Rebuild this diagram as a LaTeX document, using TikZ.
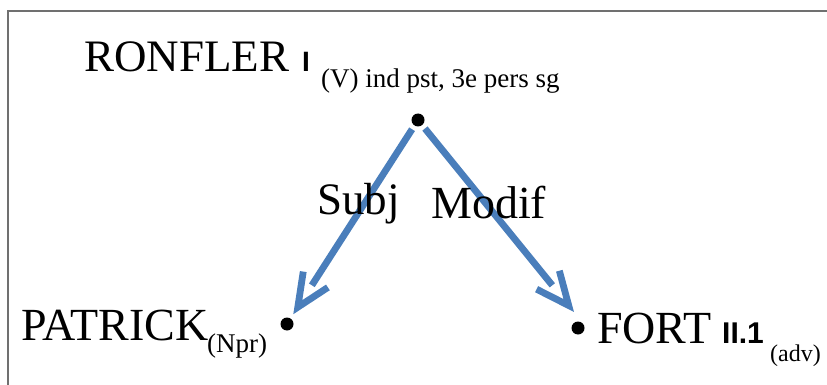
\documentclass[tikz,border=0pt]{standalone}
\usepackage{fontspec}
\setmainfont{Liberation Serif}
\newfontfamily\arialf{Liberation Sans}
\usetikzlibrary{calc}
\definecolor{arrblue}{HTML}{4A7EBB}
\definecolor{framegray}{HTML}{707070}
\begin{document}
\begin{tikzpicture}[x=1pt,y=-1pt,
  big/.style={anchor=base west, inner sep=0pt, font=\fontsize{46}{50}\selectfont},
  subtxt/.style={anchor=base west, inner sep=0pt, font=\fontsize{26}{28}\selectfont},
  roman/.style={anchor=base west, inner sep=0pt, font=\arialf\bfseries\fontsize{28}{32}\selectfont},
  dotnode/.style={circle, fill=black, inner sep=0pt, minimum size=13pt},
  shaft/.style={draw=arrblue, line width=6.8pt},
  head/.style={draw=arrblue, line width=6.8pt, line join=miter}]
\useasboundingbox (0,0) rectangle (827,385);
\draw[framegray, line width=1.5pt] (8,385) -- (8,11) -- (827,11);

% dots
\node[dotnode] (T) at (418,120) {};
\node[dotnode] (L) at (287,324) {};
\node[dotnode] (R) at (578,328) {};
\coordinate (aimR) at ($(R)+(9,0)$);

% left arrow
\coordinate (tipL) at ($(L)!20pt!(T)$);
\draw[shaft] ($(T)!11pt!(L)$) -- ($(L)!46pt!(T)$);
\draw[head] ($(tipL)!36pt!24:(T)$) -- (tipL) -- ($(tipL)!36pt!-24:(T)$);

% right arrow
\coordinate (tipR) at ($(aimR)!29pt!(T)$);
\draw[shaft] ($(T)!11pt!(aimR)$) -- ($(aimR)!55pt!(T)$);
\draw[head] ($(tipR)!36pt!24:(T)$) -- (tipR) -- ($(tipR)!36pt!-24:(T)$);

% words
\node[big, font=\fontsize{45}{50}\selectfont] (ronfler) at (84,72) {RONFLER};
\node[roman] (romI) at (302,72) {I};
\node[subtxt, font=\fontsize{27}{30}\selectfont] (vsub) at (321,88) {(V) ind pst, 3e pers sg};
\node[big] (patrick) at (21,340) {PATRICK};
\node[subtxt, font=\fontsize{27}{30}\selectfont] (npr) at (207,352) {(Npr)};
\node[big] (fort) at (597,343) {FORT};
\node[roman, font=\arialf\bfseries\fontsize{30}{32}\selectfont] (romII) at (722,343) {II.1};
\node[subtxt, font=\fontsize{24}{26}\selectfont] (adv) at (770,361) {(adv)};
\node[big, font=\fontsize{45}{50}\selectfont] (subj) at (317,214) {Subj};
\node[big] (modif) at (431,218) {Modif};
\end{tikzpicture}
\end{document}
